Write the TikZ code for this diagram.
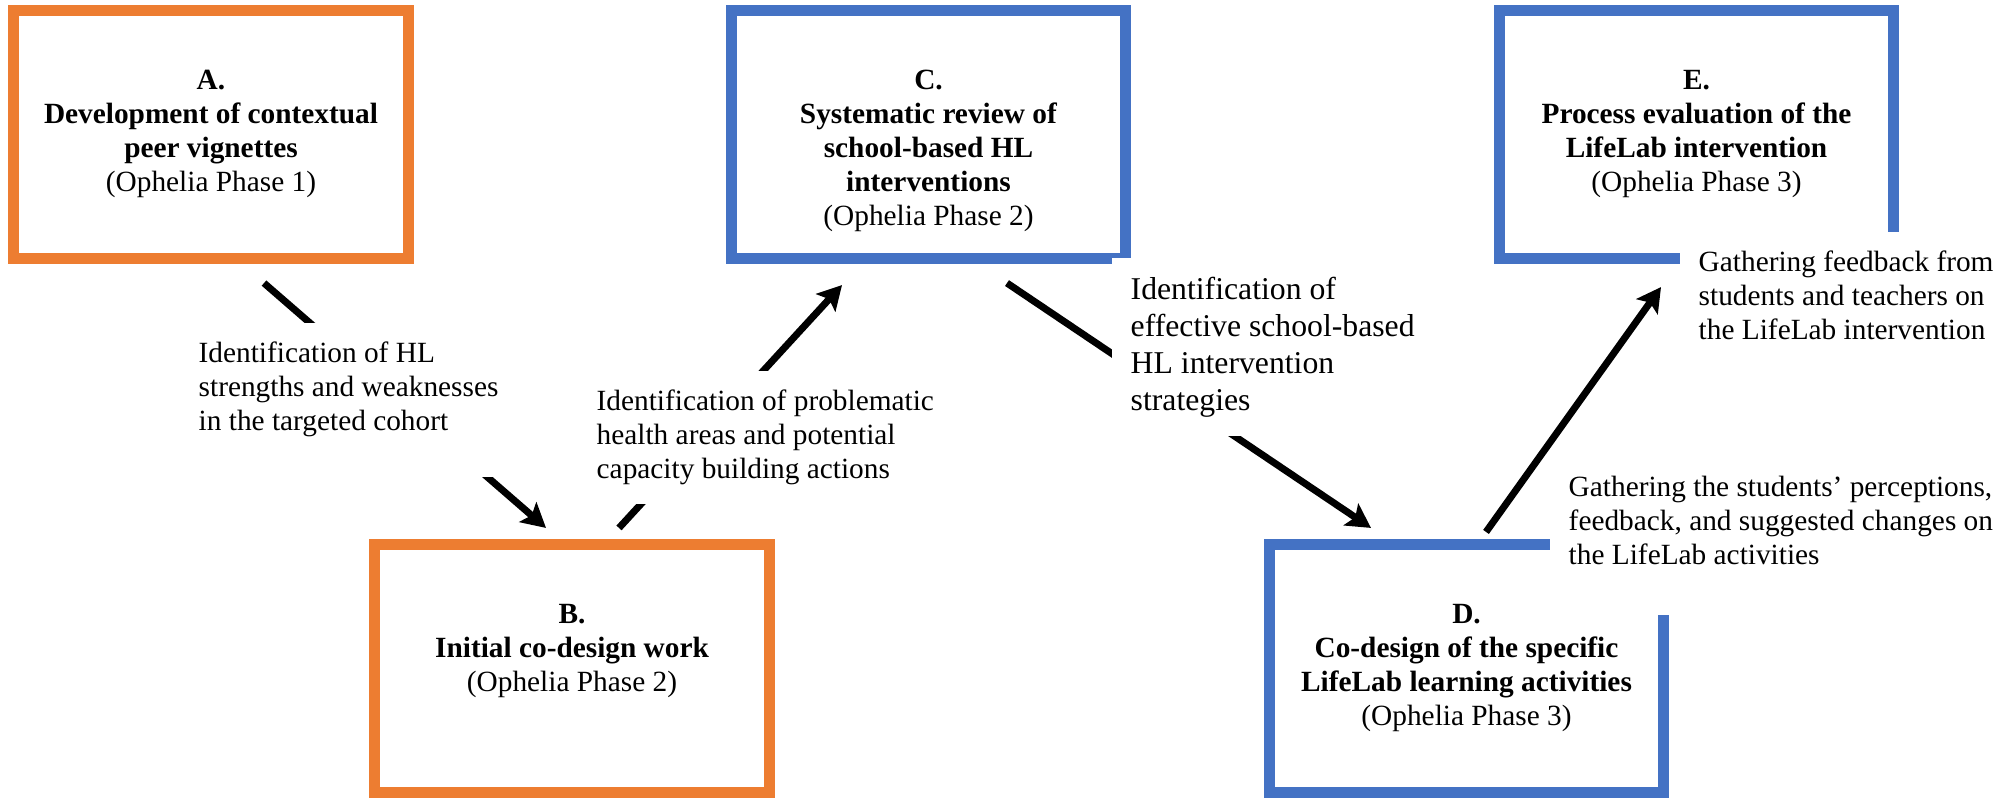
\documentclass[tikz,border=0pt]{standalone}
\usepackage{fontspec}
\setmainfont{Liberation Serif}
\usetikzlibrary{positioning,arrows.meta}

\definecolor{phaseorange}{HTML}{ED7D31}
\definecolor{phaseblue}{HTML}{4472C4}

\tikzstyle{phase} = [rectangle, draw, line width=0.11cm, minimum width=3.94cm, minimum height=2.47cm, inner sep=0pt]
\tikzstyle{title} = [align=center, inner sep=0pt, font=\fontsize{8.34}{9.67}\selectfont]
\tikzstyle{note} = [align=left, fill=white, inner sep=0.19cm, anchor=north west, font=\fontsize{8.34}{9.67}\selectfont]
\tikzstyle{link} = [line width=0.07cm, -{Stealth[length=0.24cm, width=0.26cm, inset=0.05cm]}]

\begin{document}
\begin{tikzpicture}[x=0.01cm, y=-0.01cm, node distance=0.64cm]
\useasboundingbox (0,0) rectangle (2016,797);
\node [phase, draw=phaseorange] (A) at (211,134.5) {};
\node [phase, draw=phaseorange] (B) at (572,668.5) {};
\node [phase, draw=phaseblue] (C) at (928.5,134.5) {};
\node [phase, draw=phaseblue] (D) at (1466.5,668.5) {};
\node [phase, draw=phaseblue] (E) at (1696.5,134.5) {};
\node [title] (A_txt) [below=of A.north] {\textbf{A.}\\\textbf{Development of contextual}\\\textbf{peer vignettes}\\(Ophelia Phase 1)};
\node [title] (B_txt) [below=of B.north] {\textbf{B.}\\\textbf{Initial co-design work}\\(Ophelia Phase 2)};
\node [title] (C_txt) [below=of C.north] {\textbf{C.}\\\textbf{Systematic review of}\\\textbf{school-based HL}\\\textbf{interventions}\\(Ophelia Phase 2)};
\node [title] (D_txt) [below=of D.north] {\textbf{D.}\\\textbf{Co-design of the specific}\\\textbf{LifeLab learning activities}\\(Ophelia Phase 3)};
\node [title] (E_txt) [below=of E.north] {\textbf{E.}\\\textbf{Process evaluation of the}\\\textbf{LifeLab intervention}\\(Ophelia Phase 3)};
\draw [link] ([shift={(53,19.5)}]A.south) -- ([shift={(-26,-11.5)}]B.north);
\draw [link] ([shift={(47,-11.5)}]B.north) -- ([shift={(-86.5,21.5)}]C.south);
\draw [link] ([shift={(78.5,19.5)}]C.south) -- ([shift={(-95.5,-11.5)}]D.north);
\draw [link] ([shift={(19.5,-7.5)}]D.north) -- ([shift={(-35.5,23.5)}]E.south);
\node [note] (AB_lab) at (179,322) {Identification of HL\\strengths and weaknesses\\in the targeted cohort\rule[-0.28cm]{0pt}{0pt}};
\node [note] (BC_lab) at (577,370) {Identification of problematic\\health areas and potential\\capacity building actions};
\node [note, font=\fontsize{9.02}{10.53}\selectfont] (CD_lab) at (1111,257) {Identification of\\effective school-based\\HL intervention\\strategies};
\node [note] (DE_lab) at (1549,456) {Gathering the students’ perceptions,\\feedback, and suggested changes on\\the LifeLab activities\rule[-0.32cm]{0pt}{0pt}};
\node [note] (E_lab) at (1679,231) {Gathering feedback from\\students and teachers on\\the LifeLab intervention};
\end{tikzpicture}
\end{document}
